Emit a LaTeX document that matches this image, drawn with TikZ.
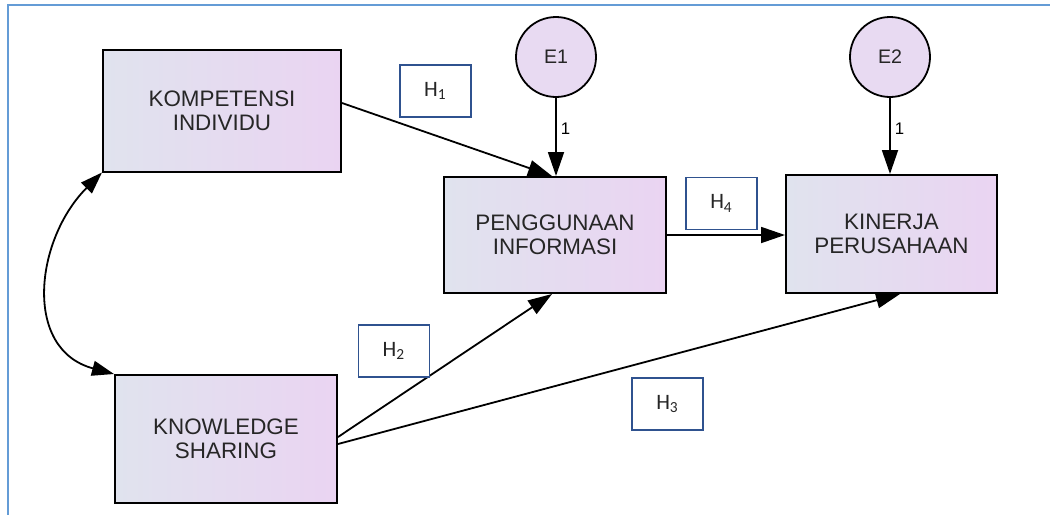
\documentclass[tikz,border=0pt]{standalone}
\usepackage{fontspec}
\setmainfont{Liberation Sans}
\newfontfamily\hfont{Carlito}
\usepackage{tikz}
\usetikzlibrary{arrows.meta}

\definecolor{boxleft}{RGB}{224,227,238}
\definecolor{boxright}{RGB}{234,212,242}
\definecolor{errfill}{RGB}{232,218,242}
\definecolor{hypblue}{RGB}{47,82,143}
\definecolor{framblue}{RGB}{100,156,214}

\begin{document}
\begin{tikzpicture}[x=0.5pt,y=-0.5pt,
    var/.style={draw,line width=1pt,left color=boxleft,right color=boxright,align=center,
        text=black!85,font=\fontsize{11.2}{12}\selectfont,inner sep=0pt},
    err/.style={draw,line width=0.9pt,circle,fill=errfill,minimum size=40pt,inner sep=0pt,
        text=black!85,font=\fontsize{9.8}{11}\selectfont},
    hyp/.style={draw=hypblue,line width=0.8pt,fill=white,minimum width=35.5pt,minimum height=26pt,
        inner sep=0pt,font=\hfont\fontsize{11}{12}\selectfont,text=black!85},
    path/.style={-{Triangle[length=12pt,width=8pt]},line width=0.9pt},
    one/.style={right,font=\fontsize{8.4}{9}\selectfont,inner sep=2pt}]
    \useasboundingbox (0,0) rectangle (1050,515);
    \draw [framblue,line width=1pt] (1050,5)--(8,5)--(8,515);

    \node [var,minimum width=119pt,minimum height=61pt] (komp) at (222,110.5) {KOMPETENSI\\INDIVIDU};
    \node [var,minimum width=111pt,minimum height=64pt] (know) at (226,439) {KNOWLEDGE\\SHARING};
    \node [var,minimum width=111pt,minimum height=58pt] (peng) at (555,235) {PENGGUNAAN\\INFORMASI};
    \node [var,minimum width=105.5pt,minimum height=59pt] (kin) at (891.5,234) {KINERJA\\PERUSAHAAN};

    \node [err] (e1) at (556,57) {E1};
    \node [err] (e2) at (890,57) {E2};

    \draw [path] (e1) -- (e1 |- peng.north) node[pos=0.4,one] {1};
    \draw [path] (e2) -- (e2 |- kin.north) node[pos=0.4,one] {1};

    \draw [path] ([yshift=3.75pt]komp.east) -- ([xshift=-1.5pt]peng.north);
    \draw [path] (peng.east) -- (peng.east -| kin.west);
    \draw [path] ([yshift=1pt]know.east) -- ([xshift=-1.5pt]peng.south);
    \draw [path] ([yshift=-2.5pt]know.east) -- ([xshift=4.25pt]kin.south);
    \draw [{Triangle[length=11pt,width=7.5pt]}-{Triangle[length=11pt,width=7.5pt]},line width=0.9pt]
        (komp.south west) to[out=225,in=165,looseness=1.2] (know.north west);

    \node [hyp] (h1) at (435.5,91) {H\textsubscript{1}};
    \node [hyp] (h2) at (394,351) {H\textsubscript{2}};
    \node [hyp] (h3) at (667.5,404) {H\textsubscript{3}};
    \node [hyp] (h4) at (721.5,203.5) {H\textsubscript{4}};
\end{tikzpicture}
\end{document}
